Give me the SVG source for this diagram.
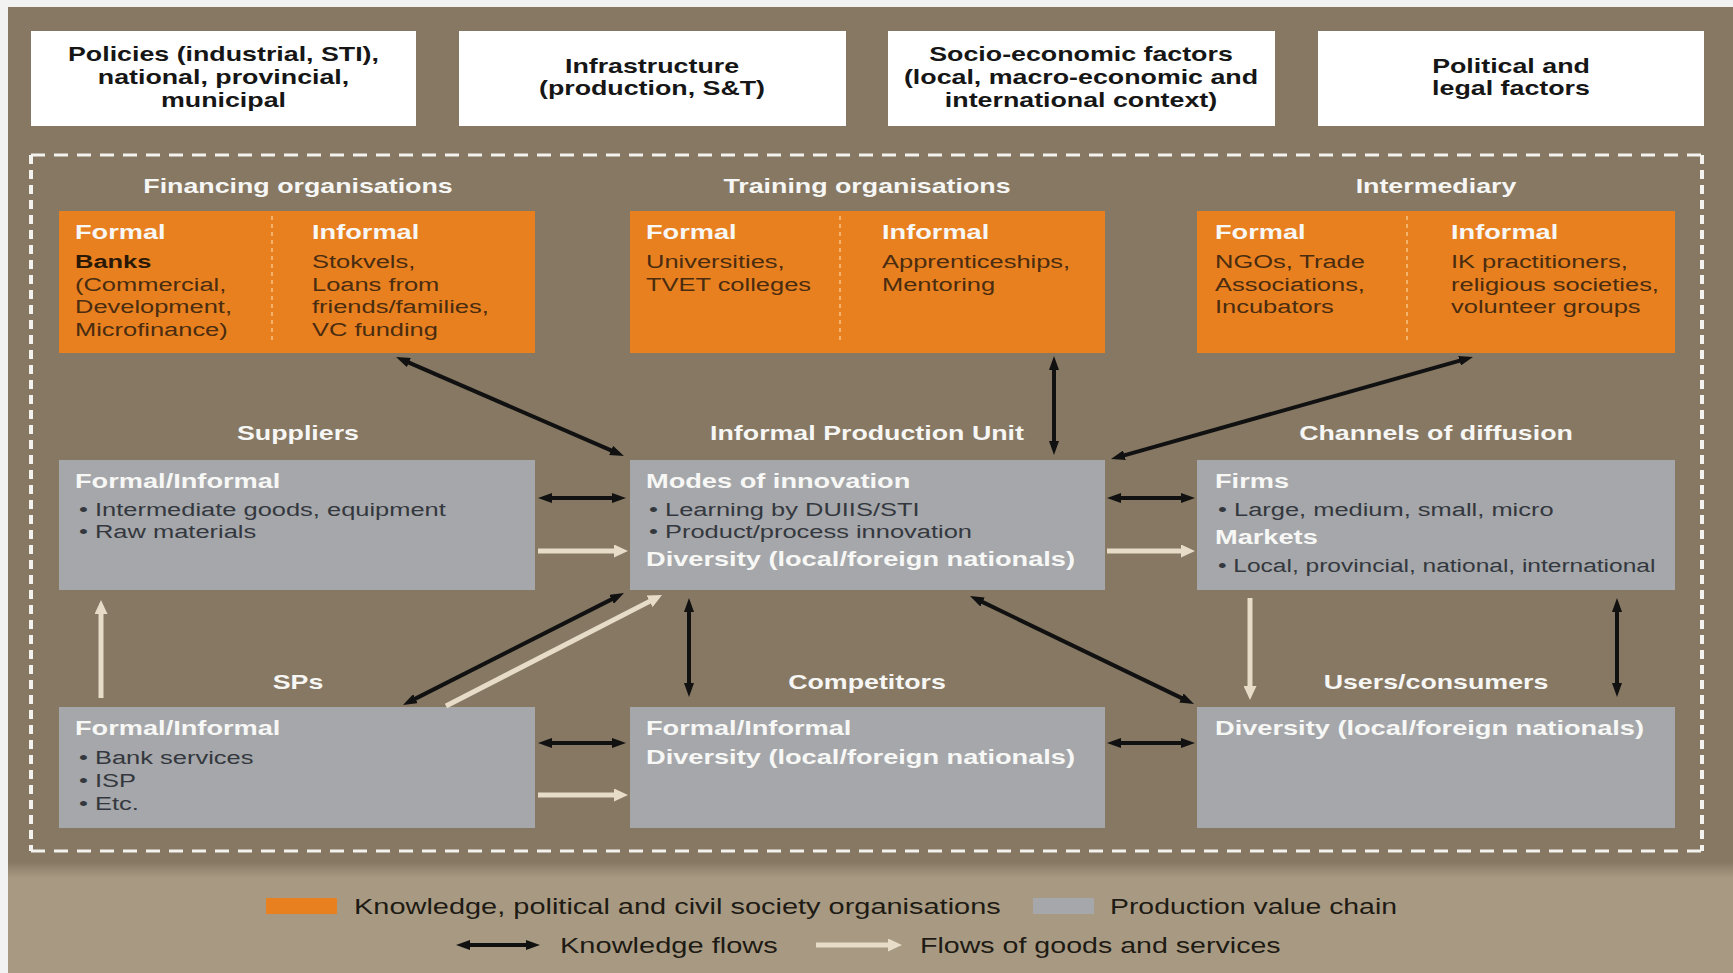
<svg xmlns="http://www.w3.org/2000/svg" width="1733" height="973" viewBox="0 0 1733 973">
<defs>
<style>
text{font-family:"Liberation Sans",Arial,sans-serif;}
.tb{font-size:20px;font-weight:bold;fill:#161616;}
.hd{font-size:20px;font-weight:bold;fill:#f6f6f4;}
.lb{font-size:20px;font-weight:bold;fill:#f7f7f5;}
.ot{font-size:19px;fill:#4a2c10;}
.otb{font-size:19px;font-weight:bold;fill:#2a1806;}
.gt{font-size:19px;fill:#34383e;}
.lg{font-size:22px;fill:#1e1a14;}
.k{stroke:#111;stroke-width:4;fill:none;}
.g{stroke:#e6dcc8;stroke-width:5;fill:none;}
.org{fill:#e8801f;}
.gry{fill:#a5a7aa;}
.wb{fill:#ffffff;}
.div{stroke:#f2b46a;stroke-width:2;stroke-dasharray:4 4;}
</style>
<marker id="kh" viewBox="0 0 14 10" refX="5" refY="5" markerWidth="14" markerHeight="10" markerUnits="userSpaceOnUse" orient="auto-start-reverse"><path d="M0,0 L14,5 L0,10 z" fill="#111"/></marker>
<marker id="gh" viewBox="0 0 14 13" refX="5" refY="6.5" markerWidth="14" markerHeight="13" markerUnits="userSpaceOnUse" orient="auto"><path d="M0,0 L14,6.5 L0,13 z" fill="#e6dcc8"/></marker>
<linearGradient id="band" x1="0" y1="0" x2="0" y2="1">
<stop offset="0" stop-color="#867863"/><stop offset="1" stop-color="#a89a82"/>
</linearGradient>
</defs>

<rect x="0" y="0" width="1733" height="973" fill="#f2f2f2"/>
<rect x="8" y="7" width="1725" height="866" fill="#867863"/>
<rect x="8" y="862" width="1725" height="16" fill="url(#band)"/>
<rect x="8" y="878" width="1725" height="95" fill="#a89a82"/>

<g id="frame" stroke="#f4f2ee" stroke-width="3" fill="none">
<line x1="31" y1="155" x2="1702" y2="155" stroke-dasharray="14 9"/>
<line x1="31" y1="851" x2="1702" y2="851" stroke-dasharray="14 9"/>
<line x1="31" y1="155" x2="31" y2="851" stroke-dasharray="9 6" stroke-width="4"/>
<line x1="1702" y1="155" x2="1702" y2="851" stroke-dasharray="9 6" stroke-width="4"/>
</g>

<g id="policies">
<rect class="wb" x="31" y="31" width="385" height="95"/>
<text class="tb" text-anchor="middle" transform="translate(223.5,61) scale(1.34,1)"><tspan x="0" y="0">Policies (industrial, STI),</tspan><tspan x="0" y="23">national, provincial,</tspan><tspan x="0" y="46">municipal</tspan></text>
</g>
<g id="infrastructure">
<rect class="wb" x="459" y="31" width="387" height="95"/>
<text class="tb" text-anchor="middle" transform="translate(652,73) scale(1.34,1)"><tspan x="0" y="0">Infrastructure</tspan><tspan x="0" y="22">(production, S&amp;T)</tspan></text>
</g>
<g id="socio">
<rect class="wb" x="888" y="31" width="387" height="95"/>
<text class="tb" text-anchor="middle" transform="translate(1081,61) scale(1.34,1)"><tspan x="0" y="0">Socio-economic factors</tspan><tspan x="0" y="23">(local, macro-economic and</tspan><tspan x="0" y="46">international context)</tspan></text>
</g>
<g id="political">
<rect class="wb" x="1318" y="31" width="386" height="95"/>
<text class="tb" text-anchor="middle" transform="translate(1511,73) scale(1.34,1)"><tspan x="0" y="0">Political and</tspan><tspan x="0" y="22">legal factors</tspan></text>
</g>

<g id="financing">
<text class="hd" text-anchor="middle" transform="translate(298,193) scale(1.34,1)">Financing organisations</text>
<rect class="org" x="59" y="211" width="476" height="142"/>
<line class="div" x1="272" y1="216" x2="272" y2="342"/>
<text class="lb" transform="translate(75,239) scale(1.36,1)">Formal</text>
<text class="otb" transform="translate(75,268) scale(1.34,1)">Banks</text>
<text class="ot" transform="translate(75,290.7) scale(1.34,1)"><tspan x="0" y="0">(Commercial,</tspan><tspan x="0" y="22.6">Development,</tspan><tspan x="0" y="45.3">Microfinance)</tspan></text>
<text class="lb" transform="translate(312,239) scale(1.36,1)">Informal</text>
<text class="ot" transform="translate(312,268) scale(1.34,1)"><tspan x="0" y="0">Stokvels,</tspan><tspan x="0" y="22.7">Loans from</tspan><tspan x="0" y="45.3">friends/families,</tspan><tspan x="0" y="68">VC funding</tspan></text>
</g>

<g id="training">
<text class="hd" text-anchor="middle" transform="translate(867,193) scale(1.34,1)">Training organisations</text>
<rect class="org" x="630" y="211" width="475" height="142"/>
<line class="div" x1="840" y1="216" x2="840" y2="342"/>
<text class="lb" transform="translate(646,239) scale(1.36,1)">Formal</text>
<text class="ot" transform="translate(646,268) scale(1.34,1)"><tspan x="0" y="0">Universities,</tspan><tspan x="0" y="22.7">TVET colleges</tspan></text>
<text class="lb" transform="translate(882,239) scale(1.36,1)">Informal</text>
<text class="ot" transform="translate(882,268) scale(1.34,1)"><tspan x="0" y="0">Apprenticeships,</tspan><tspan x="0" y="22.7">Mentoring</tspan></text>
</g>

<g id="intermediary">
<text class="hd" text-anchor="middle" transform="translate(1436,193) scale(1.34,1)">Intermediary</text>
<rect class="org" x="1197" y="211" width="478" height="142"/>
<line class="div" x1="1407" y1="216" x2="1407" y2="342"/>
<text class="lb" transform="translate(1215,239) scale(1.36,1)">Formal</text>
<text class="ot" transform="translate(1215,268) scale(1.34,1)"><tspan x="0" y="0">NGOs, Trade</tspan><tspan x="0" y="22.7">Associations,</tspan><tspan x="0" y="45.3">Incubators</tspan></text>
<text class="lb" transform="translate(1451,239) scale(1.36,1)">Informal</text>
<text class="ot" transform="translate(1451,268) scale(1.34,1)"><tspan x="0" y="0">IK practitioners,</tspan><tspan x="0" y="22.7">religious societies,</tspan><tspan x="0" y="45.3">volunteer groups</tspan></text>
</g>

<g id="suppliers">
<text class="hd" text-anchor="middle" transform="translate(298,440) scale(1.34,1)">Suppliers</text>
<rect class="gry" x="59" y="460" width="476" height="130"/>
<text class="lb" transform="translate(75,488) scale(1.36,1)">Formal/Informal</text>
<text class="gt" transform="translate(79,516) scale(1.34,1)"><tspan x="0" y="0">• Intermediate goods, equipment</tspan><tspan x="0" y="22">• Raw materials</tspan></text>
</g>

<g id="ipu">
<text class="hd" text-anchor="middle" transform="translate(867,440) scale(1.34,1)">Informal Production Unit</text>
<rect class="gry" x="630" y="460" width="475" height="130"/>
<text class="lb" transform="translate(646,488) scale(1.36,1)">Modes of innovation</text>
<text class="gt" transform="translate(649,516) scale(1.34,1)"><tspan x="0" y="0">• Learning by DUIIS/STI</tspan><tspan x="0" y="22">• Product/process innovation</tspan></text>
<text class="lb" transform="translate(646,566) scale(1.36,1)">Diversity (local/foreign nationals)</text>
</g>

<g id="channels">
<text class="hd" text-anchor="middle" transform="translate(1436,440) scale(1.34,1)">Channels of diffusion</text>
<rect class="gry" x="1197" y="460" width="478" height="130"/>
<text class="lb" transform="translate(1215,488) scale(1.36,1)">Firms</text>
<text class="gt" transform="translate(1218,516) scale(1.34,1)">• Large, medium, small, micro</text>
<text class="lb" transform="translate(1215,544) scale(1.36,1)">Markets</text>
<text class="gt" transform="translate(1218,572) scale(1.29,1)">• Local, provincial, national, international</text>
</g>

<g id="sps">
<text class="hd" text-anchor="middle" transform="translate(298,689) scale(1.34,1)">SPs</text>
<rect class="gry" x="59" y="707" width="476" height="121"/>
<text class="lb" transform="translate(75,735) scale(1.36,1)">Formal/Informal</text>
<text class="gt" transform="translate(79,764) scale(1.34,1)"><tspan x="0" y="0">• Bank services</tspan><tspan x="0" y="23">• ISP</tspan><tspan x="0" y="46">• Etc.</tspan></text>
</g>

<g id="competitors">
<text class="hd" text-anchor="middle" transform="translate(867,689) scale(1.34,1)">Competitors</text>
<rect class="gry" x="630" y="707" width="475" height="121"/>
<text class="lb" transform="translate(646,735) scale(1.36,1)"><tspan x="0" y="0">Formal/Informal</tspan><tspan x="0" y="29">Diversity (local/foreign nationals)</tspan></text>
</g>

<g id="users">
<text class="hd" text-anchor="middle" transform="translate(1436,689) scale(1.34,1)">Users/consumers</text>
<rect class="gry" x="1197" y="707" width="478" height="121"/>
<text class="lb" transform="translate(1215,735) scale(1.36,1)">Diversity (local/foreign nationals)</text>
</g>

<g id="connectors">
<line class="k" x1="404.3" y1="360.6" x2="615.7" y2="452.4" marker-start="url(#kh)" marker-end="url(#kh)"/>
<line class="k" x1="1054" y1="365" x2="1054" y2="446" marker-start="url(#kh)" marker-end="url(#kh)"/>
<line class="k" x1="1464.3" y1="359.4" x2="1119.7" y2="456.6" marker-start="url(#kh)" marker-end="url(#kh)"/>
<line class="k" x1="547" y1="498" x2="617" y2="498" marker-start="url(#kh)" marker-end="url(#kh)"/>
<line class="g" x1="538" y1="551" x2="619" y2="551" marker-end="url(#gh)"/>
<line class="k" x1="1116" y1="498" x2="1186" y2="498" marker-start="url(#kh)" marker-end="url(#kh)"/>
<line class="g" x1="1107" y1="551" x2="1186" y2="551" marker-end="url(#gh)"/>
<line class="k" x1="411" y1="700.9" x2="616" y2="597.1" marker-start="url(#kh)" marker-end="url(#kh)"/>
<line class="g" x1="446" y1="706" x2="654" y2="599.1" marker-end="url(#gh)"/>
<line class="g" x1="101" y1="698" x2="101" y2="609" marker-end="url(#gh)"/>
<line class="k" x1="689" y1="607" x2="689" y2="688" marker-start="url(#kh)" marker-end="url(#kh)"/>
<line class="k" x1="978.1" y1="599.9" x2="1185.9" y2="700.1" marker-start="url(#kh)" marker-end="url(#kh)"/>
<line class="k" x1="547" y1="743" x2="617" y2="743" marker-start="url(#kh)" marker-end="url(#kh)"/>
<line class="g" x1="538" y1="795" x2="619" y2="795" marker-end="url(#gh)"/>
<line class="k" x1="1116" y1="743" x2="1186" y2="743" marker-start="url(#kh)" marker-end="url(#kh)"/>
<line class="g" x1="1250" y1="598" x2="1250" y2="691" marker-end="url(#gh)"/>
<line class="k" x1="1617" y1="607" x2="1617" y2="688" marker-start="url(#kh)" marker-end="url(#kh)"/>
</g>

<g id="legend">
<rect class="org" x="266" y="898" width="71" height="16"/>
<text class="lg" transform="translate(354,914) scale(1.316,1)">Knowledge, political and civil society organisations</text>
<rect class="gry" x="1033" y="898" width="61" height="16"/>
<text class="lg" transform="translate(1110,914) scale(1.29,1)">Production value chain</text>
<line class="k" x1="465" y1="945" x2="531" y2="945" marker-start="url(#kh)" marker-end="url(#kh)"/>
<text class="lg" transform="translate(560,953) scale(1.32,1)">Knowledge flows</text>
<line class="g" x1="816" y1="945" x2="893" y2="945" marker-end="url(#gh)"/>
<text class="lg" transform="translate(920,953) scale(1.3,1)">Flows of goods and services</text>
</g>
</svg>
